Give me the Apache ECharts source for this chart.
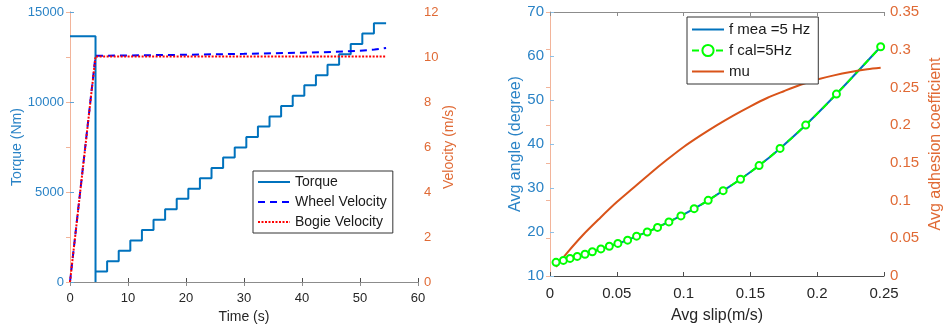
<!DOCTYPE html>
<html>
<head>
<meta charset="utf-8">
<script src="https://cdn.jsdelivr.net/npm/echarts@6/dist/echarts.min.js"></script>
<style>
  html, body { margin: 0; padding: 0; background: #fff; }
  #chart { width: 945px; height: 329px; }
</style>
</head>
<body>
<div id="chart"></div>
<script>
// left panel: torque steps (s, Nm)
const torqueTime = [0, 4.4, 4.4, 6.4, 8.4, 10.4, 12.4, 14.4, 16.4, 18.4, 20.4, 22.4, 24.4, 26.4, 28.4,
  30.4, 32.4, 34.4, 36.4, 38.4, 40.4, 42.4, 44.4, 46.4, 48.4, 50.4, 52.4, 54.5];
const torqueVals = [13650, 0, 580, 1150, 1730, 2310, 2890, 3460, 4040, 4620, 5180, 5760, 6330, 6910, 7470,
  8050, 8640, 9200, 9780, 10350, 10930, 11490, 12070, 12650, 13220, 13800, 14370, 14370];

// velocities (m/s)
const wheelTime = [0, 4.4, 10, 20, 30, 40, 45, 50, 52.5, 54.5];
const wheelVel = [0, 10.05, 10.07, 10.1, 10.14, 10.19, 10.22, 10.28, 10.33, 10.4];
const bogieTime = [0, 4.4, 54.5];
const bogieVel = [0, 10.02, 10.02];

// right panel: angle vs slip
const slip = [0.0045, 0.010, 0.015, 0.0204, 0.0262, 0.0317, 0.0381, 0.0444, 0.0508, 0.0581, 0.0648, 0.0728,
  0.0805, 0.089, 0.098, 0.1079, 0.1184, 0.1296, 0.1426, 0.1565, 0.1722, 0.1914, 0.2144, 0.2475];
const angleMea = [13.1, 13.55, 14.0, 14.45, 14.95, 15.5, 16.15, 16.75, 17.4, 18.15, 19.05, 20.0,
  21.05, 22.3, 23.65, 25.3, 27.2, 29.4, 32.0, 35.1, 39.0, 44.3, 51.35, 62.1];
const angleCal = [13.1, 13.55, 14.0, 14.45, 14.95, 15.5, 16.15, 16.75, 17.4, 18.15, 19.05, 20.0,
  21.05, 22.3, 23.65, 25.3, 27.2, 29.4, 32.0, 35.1, 39.0, 44.3, 51.35, 62.1];

// adhesion coefficient
const muSlip = [0.0045, 0.0125, 0.025, 0.0375, 0.05, 0.0625, 0.075, 0.0875, 0.1, 0.1125, 0.125, 0.1375,
  0.15, 0.1625, 0.175, 0.1875, 0.2, 0.2125, 0.225, 0.2375, 0.2475];
const muVals = [0.012, 0.030, 0.055, 0.077, 0.098, 0.117, 0.136, 0.154, 0.171, 0.186, 0.2, 0.213,
  0.225, 0.236, 0.245, 0.2535, 0.2605, 0.266, 0.2705, 0.274, 0.276];

const zip = (xs, ys) => xs.map((x, i) => [x, ys[i]]);

const FONT = '"Liberation Sans", Arial, sans-serif';
const BLUE = '#0072BD';
const ORANGE = '#D95319';
const BLUE_TXT = '#2a83c6';
const ORANGE_TXT = '#e06a35';

function xAxisBottom(grid, min, max, interval, name, fs, nfs, gap) {
  return {
    type: 'value', gridIndex: grid, min, max, interval, position: 'bottom',
    name, nameLocation: 'middle', nameGap: gap,
    nameTextStyle: { color: '#262626', fontSize: nfs, fontFamily: FONT },
    axisLine: { lineStyle: { color: '#4d4d4d', width: 1 } },
    axisTick: { inside: true, length: 4, lineStyle: { color: '#4d4d4d' } },
    axisLabel: { color: '#262626', fontSize: fs, fontFamily: FONT, margin: 10 },
    splitLine: { show: false },
  };
}

function xAxisTop(grid, min, max, interval) {
  return {
    type: 'value', gridIndex: grid, min, max, interval, position: 'top',
    axisLine: { lineStyle: { color: '#8c8c8c', width: 1 } },
    axisTick: { inside: true, length: 4, lineStyle: { color: '#8c8c8c' } },
    axisLabel: { show: false },
    splitLine: { show: false },
  };
}

function yAxis(grid, pos, min, max, interval, name, lineColor, txtColor, fs, nfs, gap) {
  return {
    type: 'value', gridIndex: grid, position: pos, min, max, interval,
    name, nameLocation: 'middle', nameGap: gap,
    nameRotate: 90,
    nameTextStyle: { color: txtColor, fontSize: nfs, fontFamily: FONT },
    axisLine: { show: true, lineStyle: { color: lineColor, width: 1 } },
    axisTick: { show: true, inside: true, length: 4, lineStyle: { color: lineColor } },
    axisLabel: { color: txtColor, fontSize: fs, fontFamily: FONT, margin: 6, formatter: (v) => String(+v.toFixed(4)) },
    splitLine: { show: false },
  };
}

// legend entries for plain lines: hide the marker, keep the line
const plain = (name) => ({ name, itemStyle: { opacity: 0 } });

const chart = echarts.init(document.getElementById('chart'));
chart.setOption({
  animation: false,
  backgroundColor: '#fff',
  textStyle: { fontFamily: FONT },
  grid: [
    { left: 70, top: 12, width: 348, height: 275 },
    { left: 550, top: 12, width: 334, height: 270 },
  ],
  legend: [
    {
      orient: 'vertical', left: 253, top: 171,
      data: [plain('Torque'), plain('Wheel Velocity'), plain('Bogie Velocity')],
      itemWidth: 32, itemHeight: 14, itemGap: 6,
      padding: [4, 6, 4, 4],
      borderColor: '#333', borderWidth: 1, backgroundColor: '#fff', borderRadius: 0,
      textStyle: { color: '#1a1a1a', fontSize: 14, fontFamily: FONT },
    },
    {
      orient: 'vertical', left: 687, top: 17,
      data: [plain('f mea =5 Hz'), 'f cal=5Hz', plain('mu')],
      itemWidth: 32, itemHeight: 14, itemGap: 6,
      padding: [5, 8, 5, 4],
      borderColor: '#333', borderWidth: 1, backgroundColor: '#fff', borderRadius: 0,
      textStyle: { color: '#1a1a1a', fontSize: 15, fontFamily: FONT },
    },
  ],
  xAxis: [
    xAxisBottom(0, 0, 60, 10, 'Time (s)', 13, 14, 28),
    xAxisTop(0, 0, 60, 10),
    xAxisBottom(1, 0, 0.25, 0.05, 'Avg slip(m/s)', 15, 16, 32),
    xAxisTop(1, 0, 0.25, 0.05),
  ],
  yAxis: [
    yAxis(0, 'left', 0, 15000, 5000, 'Torque (Nm)', '#5fa3d6', BLUE_TXT, 13, 14, 37),
    yAxis(0, 'right', 0, 12, 2, 'Velocity (m/s)', '#f2b49a', ORANGE_TXT, 13, 14, 24),
    yAxis(1, 'left', 10, 70, 10, 'Avg angle (degree)', '#8ec0e6', BLUE_TXT, 15, 16, 25),
    yAxis(1, 'right', 0, 0.35, 0.05, 'Avg adhesion coefficient', '#f2b49a', ORANGE_TXT, 15, 16, 44),
  ],
  series: [
    {
      name: 'Torque', type: 'line', xAxisIndex: 0, yAxisIndex: 0,
      data: zip(torqueTime, torqueVals), step: 'end', symbol: 'none',
      lineStyle: { color: BLUE, width: 2 }, itemStyle: { color: BLUE },
    },
    {
      name: 'Wheel Velocity', type: 'line', xAxisIndex: 0, yAxisIndex: 1,
      data: zip(wheelTime, wheelVel), symbol: 'none',
      lineStyle: { color: '#0000ff', width: 2, type: [7, 5] }, itemStyle: { color: '#0000ff' },
    },
    {
      name: 'Bogie Velocity', type: 'line', xAxisIndex: 0, yAxisIndex: 1,
      data: zip(bogieTime, bogieVel), symbol: 'none',
      lineStyle: { color: '#ff0000', width: 2, type: [2, 1.5] }, itemStyle: { color: '#ff0000' },
    },
    {
      name: 'f mea =5 Hz', type: 'line', xAxisIndex: 2, yAxisIndex: 2,
      data: zip(slip, angleMea), symbol: 'none', smooth: 0.3,
      lineStyle: { color: BLUE, width: 2 }, itemStyle: { color: BLUE },
    },
    {
      name: 'f cal=5Hz', type: 'line', xAxisIndex: 2, yAxisIndex: 2,
      data: zip(slip, angleCal), symbol: 'emptyCircle', symbolSize: 7, smooth: 0.3,
      lineStyle: { color: '#00ff00', width: 2, type: [7, 5] },
      itemStyle: { color: '#00ff00', borderColor: '#00ff00', borderWidth: 1.5 },
    },
    {
      name: 'mu', type: 'line', xAxisIndex: 2, yAxisIndex: 3,
      data: zip(muSlip, muVals), symbol: 'none', smooth: 0.3,
      lineStyle: { color: ORANGE, width: 2 }, itemStyle: { color: ORANGE },
    },
  ],
});
</script>
</body>
</html>
